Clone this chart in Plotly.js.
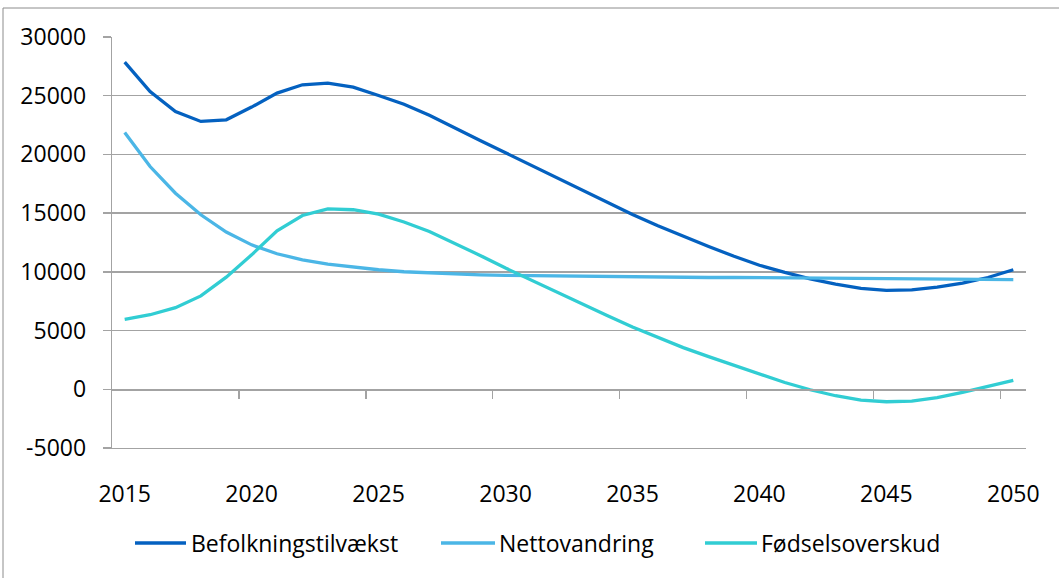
<!DOCTYPE html>
<html><head><meta charset="utf-8">
<script src="https://cdn.plot.ly/plotly-3.0.1.min.js"></script>
<style>html,body{margin:0;padding:0;background:#fff;overflow:hidden}#chart{width:1059px;height:578px}</style>
</head><body><div id="chart"></div>
<script>
// ---- data ----
const years = [2015,2016,2017,2018,2019,2020,2021,2022,2023,2024,2025,2026,2027,2028,2029,2030,2031,2032,2033,2034,2035,2036,2037,2038,2039,2040,2041,2042,2043,2044,2045,2046,2047,2048,2049,2050];
const befolkningstilvaekst = [27860,25360,23660,22810,22950,24030,25220,25930,26070,25730,25020,24280,23330,22240,21190,20140,19090,18040,16990,15940,14890,13920,13010,12160,11330,10560,9950,9410,8960,8590,8420,8470,8700,9040,9520,10180];
const nettovandring = [21870,18970,16700,14860,13390,12300,11540,11030,10660,10400,10180,10010,9900,9820,9750,9700,9670,9640,9610,9580,9560,9550,9530,9520,9520,9510,9500,9480,9460,9440,9420,9400,9390,9370,9350,9340];
const foedselsoverskud = [5950,6350,6950,7950,9550,11450,13500,14800,15370,15290,14920,14250,13440,12450,11400,10320,9300,8280,7280,6290,5300,4400,3550,2780,2050,1320,580,-40,-550,-920,-1060,-1010,-720,-270,240,750];
const seriesNames = ["Befolkningstilvækst","Nettovandring","Fødselsoverskud"];
const xTickLabels = [2015,2020,2025,2030,2035,2040,2045,2050];
const yTickValues = [-5000,0,5000,10000,15000,20000,25000,30000];

// ---- styles ----
const colors = ["#0461C0","#4BB6E6","#31CDD3"];
const W = 1059, H = 578;
const M = {l:112, r:33, t:37, b:130};
const PW = W - M.l - M.r, PH = H - M.t - M.b;
const px = v => (v - M.l) / PW;
const py = v => (H - M.b - v) / PH;
const FONT = {family:"Open Sans, sans-serif", size:23, color:"#000"};
const GRID = "#a3a3a3";

const seriesValues = [befolkningstilvaekst, nettovandring, foedselsoverskud];
const traces = seriesValues.map((vals, i) => ({
  type:"scatter", mode:"lines", x:years, y:vals, name:seriesNames[i],
  line:{color:colors[i], width:3.3}, showlegend:false
}));
// invisible helper trace so that the y=0 category axis (ticks between categories) is drawn
traces.push({type:"scatter", mode:"lines", x:[years[0]], y:[null], xaxis:"x2", showlegend:false, hoverinfo:"skip"});

const yRange = [yTickValues[0], yTickValues[yTickValues.length-1]];
const xRange = [years[0]-0.5, years[years.length-1]+0.5];
const boundaryTicks = xTickLabels.slice(1).map(v => v - 0.5);

// legend drawn as shapes + text
const legendRowY = 543;
const legendItems = [
  {x0:135, x1:186, tx:189},
  {x0:441, x1:495, tx:497},
  {x0:705, x1:757, tx:759}
];
const shapes = [
  {type:"rect", xref:"paper", yref:"paper", x0:px(3), x1:px(1075), y0:py(8), y1:py(600),
   line:{color:"#8c8c8c", width:1}, fillcolor:"rgba(0,0,0,0)", layer:"below"}
];
const annotations = [];
legendItems.forEach((it, i) => {
  shapes.push({type:"line", xref:"paper", yref:"paper", x0:px(it.x0), x1:px(it.x1), y0:py(legendRowY), y1:py(legendRowY),
    line:{color:colors[i], width:3.3}});
  annotations.push({xref:"paper", yref:"paper", x:px(it.tx), y:py(legendRowY), xanchor:"left", yanchor:"middle",
    text:seriesNames[i], showarrow:false, font:FONT});
});

const layout = {
  width:W, height:H, margin:M, paper_bgcolor:"#fff", plot_bgcolor:"#fff",
  font:FONT, showlegend:false,
  xaxis:{range:xRange, tickvals:xTickLabels, ticktext:xTickLabels.map(String), ticks:"", showgrid:false,
    zeroline:false, showline:true, linecolor:GRID, linewidth:1.3, tickfont:FONT, ticklabelstandoff:25, fixedrange:true},
  xaxis2:{overlaying:"x", anchor:"free", position:(0 - yRange[0])/(yRange[1]-yRange[0]), range:xRange,
    tickvals:boundaryTicks, ticks:"outside", ticklen:8, tickcolor:GRID, tickwidth:1.3, showticklabels:false,
    showline:true, linecolor:GRID, linewidth:1.3, showgrid:false, zeroline:false, side:"bottom"},
  yaxis:{range:yRange, tickvals:yTickValues, ticktext:yTickValues.map(String), showgrid:true, gridcolor:GRID, gridwidth:1.3,
    ticks:"outside", ticklen:8, tickcolor:GRID, tickwidth:1.3, showline:true, linecolor:GRID, linewidth:1.3,
    zeroline:false, tickfont:FONT, ticklabelstandoff:12, fixedrange:true},
  shapes:shapes, annotations:annotations
};
Plotly.newPlot("chart", traces, layout, {staticPlot:true, displayModeBar:false});
</script></body></html>
